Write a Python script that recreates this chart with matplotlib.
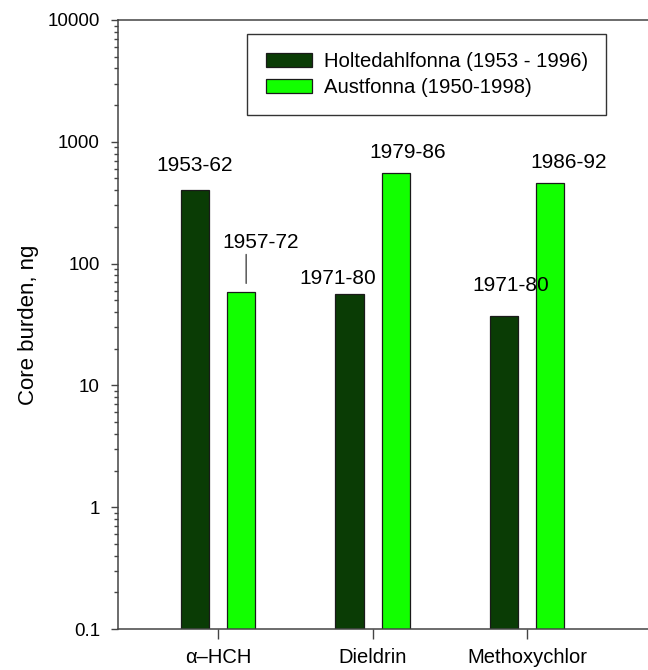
import matplotlib
matplotlib.use("Agg")
import matplotlib.pyplot as plt
import numpy as np
from matplotlib.ticker import LogLocator, FixedLocator, NullFormatter, FuncFormatter
from matplotlib.transforms import offset_copy

plt.rcParams['font.family'] = ['Liberation Sans', 'DejaVu Sans']

categories = ["\u03b1\u2013HCH", "Dieldrin", "Methoxychlor"]
series_names = ["Holtedahlfonna (1953 - 1996)", "Austfonna (1950-1998)"]
holtedahl = [405, 56, 37]
austfonna = [58, 555, 460]
holtedahl_periods = ["1953-62", "1971-80", "1971-80"]
austfonna_periods = ["1957-72", "1979-86", "1986-92"]

dark = "#0A3C05"
light = "#12FF00"
edge = "#1a1a1a"

fig = plt.figure(figsize=(6.48, 6.70), dpi=100)
ax = fig.add_axes([118/648, 1-629/670, 1.003-118/648, (629-20)/670])

x = np.arange(len(categories))
px = 1/154.0
w = 28*px
off = 23*px
ax.bar(x - off, holtedahl, width=w, color=dark, edgecolor=edge, linewidth=0.9,
       label=series_names[0])
ax.bar(x + off, austfonna, width=w, color=light, edgecolor=edge, linewidth=0.9,
       label=series_names[1])

ax.set_yscale('log')
ax.set_ylim(0.1, 10000)
ax.set_xlim(-99.7*px, (648-217.7)*px)

ax.set_xticks(x)
ax.set_xticklabels(categories, fontsize=14.5)
ax.yaxis.set_major_locator(FixedLocator([0.1, 1, 10, 100, 1000, 10000]))
ax.yaxis.set_major_formatter(FuncFormatter(lambda v, p: f"{v:g}"))
ax.yaxis.set_minor_locator(LogLocator(base=10, subs=np.arange(2, 10)))
ax.yaxis.set_minor_formatter(NullFormatter())

spine_c = "#444444"
for s in ['left', 'bottom', 'top']:
    ax.spines[s].set_color(spine_c)
    ax.spines[s].set_linewidth(1.1)
ax.spines['right'].set_visible(False)

ax.tick_params(axis='y', which='major', direction='out', length=5, width=1, color=spine_c,
               labelsize=13.5, pad=8, right=True)
ax.tick_params(axis='y', which='minor', direction='out', length=3, width=1, color=spine_c, right=True)
ax.tick_params(axis='x', which='major', direction='out', length=7, width=1, color=spine_c,
               pad=7, top=False)
for t in ax.yaxis.get_major_ticks() + ax.yaxis.get_minor_ticks():
    t.tick2line.set_color("#c8c8c8")
    t.tick2line.set_markersize(3)

ax.set_ylabel("Core burden, ng", fontsize=16, labelpad=6)

leg = ax.legend(loc='upper left', bbox_to_anchor=((247-118)/530, 1-(34-20)/609),
                fontsize=14.6, frameon=True, fancybox=False, edgecolor='black',
                handlelength=2.3, handleheight=0.65, handletextpad=0.55, labelspacing=0.33,
                borderpad=0.9, borderaxespad=0)
leg.get_frame().set_linewidth(1.0)

# period annotations (pixel offsets relative to bar tops)
h_offsets = [(0, 24), (-12, 16), (7, 31)]
a_offsets = [(19, 50), (12, 20), (18, 20)]
for i in range(len(categories)):
    ax.annotate(holtedahl_periods[i], xy=(x[i]-off, holtedahl[i]), xytext=h_offsets[i],
                textcoords='offset pixels', ha='center', va='center', fontsize=15)
    ax.annotate(austfonna_periods[i], xy=(x[i]+off, austfonna[i]), xytext=a_offsets[i],
                textcoords='offset pixels', ha='center', va='center', fontsize=15)

# leader line for first Austfonna label
tA = offset_copy(ax.transData, fig=fig, x=5, y=9, units='dots')
tB = offset_copy(ax.transData, fig=fig, x=5, y=38, units='dots')
ax.annotate('', xy=(x[0]+off, austfonna[0]), xycoords=tA,
            xytext=(x[0]+off, austfonna[0]), textcoords=tB,
            arrowprops=dict(arrowstyle='-', color='#333333', lw=0.9, shrinkA=0, shrinkB=0))

fig.savefig("out.png", dpi=100)
